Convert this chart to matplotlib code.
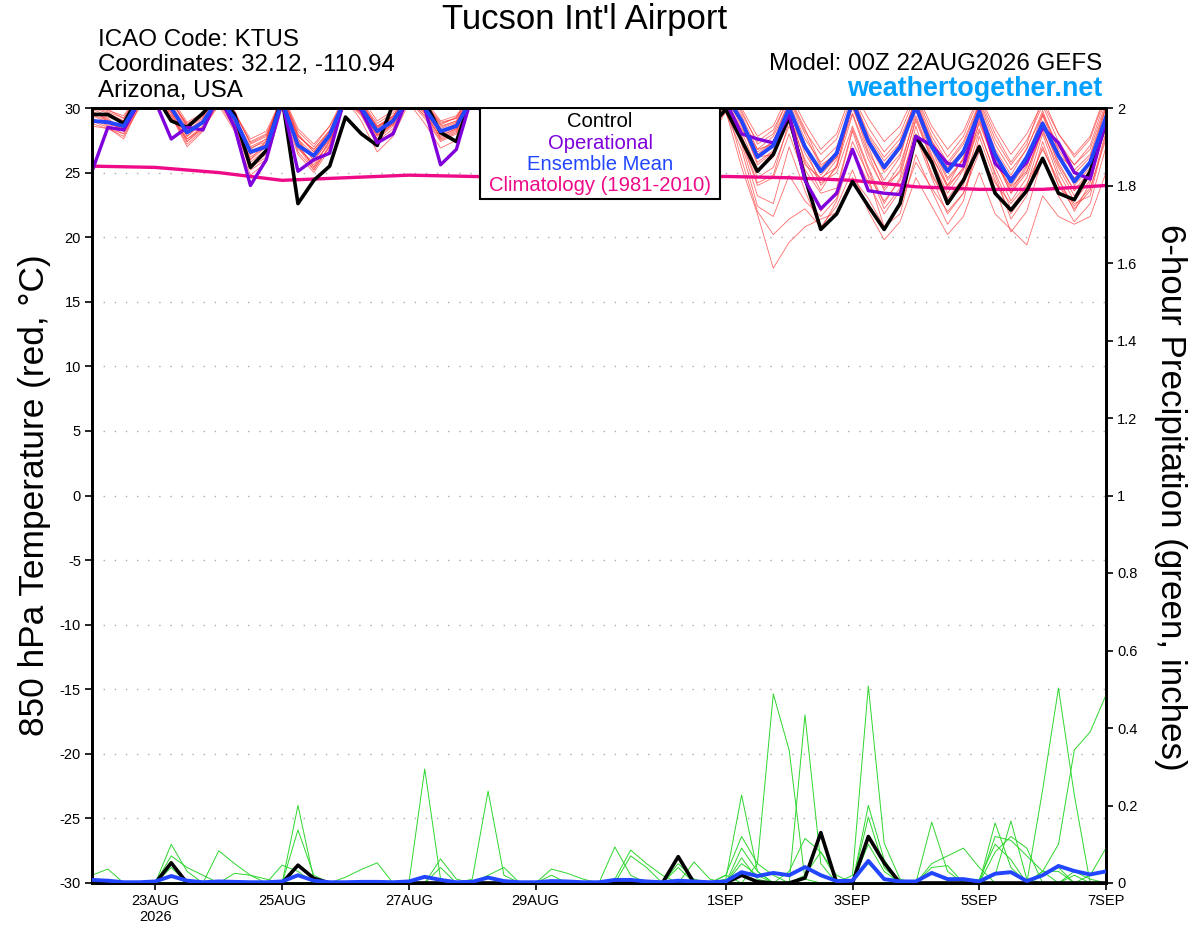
import numpy as np
import pandas as pd
import matplotlib
matplotlib.use('Agg')
import matplotlib.pyplot as plt
from matplotlib.patches import Rectangle

plt.rcParams['font.family'] = ['Liberation Sans', 'DejaVu Sans']
plt.rcParams['axes.unicode_minus'] = False

# 6-hourly GEFS output, 22 Aug 00Z to 7 Sep 00Z
times = pd.date_range('2026-08-22 00:00', periods=65, freq='6h')
clim_times = pd.date_range('2026-08-22', periods=17, freq='D')

# 850 hPa temperature (C)
control_t = [29.5, 29.5, 28.8, 31.0, 31.0, 29.0, 28.5, 29.6, 31.0, 29.5, 25.4, 26.7,
             30.8, 22.6, 24.4, 25.5, 29.3, 28.0, 27.1, 30.3, 31.0, 30.5, 28.1, 27.4,
             31.0, 30.0, 28.5, 29.0, 31.0, 29.8, 28.4, 29.0, 31.0, 30.0, 28.6, 29.2,
             31.0, 30.0, 28.8, 28.5, 29.9, 27.5, 25.1, 26.4, 29.3, 24.6, 20.6, 21.8,
             24.3, 22.4, 20.6, 22.6, 27.8, 25.8, 22.6, 24.4, 27.0, 23.4, 22.1, 23.6,
             26.1, 23.4, 22.9, 25.1, 28.8]
operational_t = [25.1, 28.5, 28.3, 30.5, 30.5, 27.6, 28.5, 28.3, 31.0, 28.5, 24.0, 26.0,
                 30.5, 25.1, 26.0, 26.5, 31.0, 29.8, 27.3, 28.0, 31.0, 30.0, 25.6, 26.8,
                 31.0, 29.5, 28.0, 28.6, 31.0, 29.6, 28.2, 28.8, 31.0, 29.8, 28.4, 28.9,
                 31.0, 30.2, 28.8, 29.5, 30.5, 28.0, 27.6, 27.3, 29.5, 24.4, 22.2, 23.4,
                 26.8, 23.6, 23.4, 23.3, 27.8, 27.1, 25.7, 25.5, 29.8, 25.7, 24.5, 25.8,
                 28.5, 27.3, 25.0, 24.5, 29.0]
mean_t = [29.0, 28.9, 28.6, 30.6, 31.0, 30.0, 28.1, 28.9, 30.8, 29.2, 26.6, 27.0,
          30.5, 27.1, 26.3, 27.9, 30.8, 30.0, 28.2, 29.0, 30.8, 30.0, 28.2, 28.6,
          30.8, 29.0, 28.0, 28.5, 30.8, 29.5, 28.0, 28.6, 30.9, 29.6, 28.2, 28.8,
          31.0, 29.8, 28.5, 29.2, 31.0, 29.0, 26.2, 27.1, 30.0, 27.0, 25.1, 26.5,
          30.5, 27.4, 25.4, 27.0, 30.1, 27.0, 25.1, 26.6, 29.7, 26.4, 24.3, 26.2,
          28.8, 26.3, 24.3, 25.8, 29.3]
clim_t = [25.5, 25.4, 25.0, 24.4, 24.6, 24.8, 24.7, 24.6, 24.6, 24.6, 24.7, 24.6,
          24.4, 23.9, 23.7, 23.7, 24.0]

member_t = [
    [29.6, 29.3, 28.9, 31.0, 31.5, 30.2, 28.5, 29.2, 31.0, 29.0, 26.0, 27.5, 31.2, 27.8, 26.8, 28.3,
     31.0, 30.2, 28.4, 29.3, 31.2, 29.8, 27.6, 28.2, 31.0, 29.5, 27.8, 28.9, 31.2, 29.8, 28.0, 28.6,
     31.0, 29.3, 27.5, 28.4, 31.1, 29.6, 27.9, 28.8, 31.0, 28.6, 25.8, 26.7, 29.8, 26.5, 24.4, 26.0,
     30.8, 27.8, 25.9, 27.3, 30.6, 27.5, 25.6, 27.2, 30.2, 26.8, 24.8, 26.9, 29.5, 26.8, 24.9, 26.2, 30.0],
    [29.2, 28.6, 28.0, 30.4, 31.0, 29.6, 27.4, 28.6, 30.6, 28.8, 26.9, 27.4, 30.9, 27.0, 25.6, 27.4,
     30.6, 29.5, 27.6, 28.8, 30.9, 29.6, 28.5, 29.0, 31.0, 29.0, 27.4, 28.2, 30.8, 29.4, 27.9, 28.9,
     31.2, 29.8, 28.1, 28.7, 30.9, 29.1, 27.2, 28.1, 30.4, 27.9, 24.6, 25.4, 28.6, 25.6, 24.6, 25.4,
     29.5, 26.0, 23.8, 25.6, 29.4, 26.2, 24.0, 25.3, 28.8, 25.7, 23.9, 25.1, 28.2, 25.4, 23.2, 24.7, 29.0],
    [30.2, 29.8, 29.4, 31.2, 31.8, 30.8, 28.9, 29.6, 31.2, 29.7, 27.3, 27.9, 30.4, 26.6, 25.2, 27.1,
     31.2, 30.5, 28.8, 29.6, 31.0, 30.2, 28.8, 29.2, 31.3, 30.1, 28.3, 29.0, 31.0, 29.2, 27.6, 28.5,
     31.4, 30.0, 28.4, 29.1, 31.2, 30.0, 28.2, 29.0, 31.5, 29.6, 27.4, 28.3, 30.8, 28.2, 26.4, 27.6,
     31.0, 28.5, 26.6, 28.0, 31.0, 28.2, 26.2, 27.8, 30.8, 28.0, 25.8, 27.5, 30.2, 27.4, 25.6, 27.1, 30.8],
    [28.8, 28.4, 27.8, 30.2, 30.8, 29.4, 27.2, 28.3, 30.4, 28.4, 25.6, 26.4, 30.2, 27.4, 26.0, 27.6,
     30.4, 29.8, 28.0, 28.8, 30.6, 29.2, 27.4, 28.0, 30.6, 29.0, 27.2, 28.0, 30.9, 29.2, 27.4, 28.3,
     30.6, 28.8, 26.9, 27.8, 30.8, 28.4, 26.2, 27.4, 29.8, 25.4, 21.8, 17.6, 19.6, 20.8, 21.4, 21.9,
     24.6, 23.0, 20.8, 22.4, 25.8, 23.8, 22.0, 23.4, 26.6, 24.2, 22.6, 24.1, 26.8, 24.4, 22.4, 23.8, 27.6],
    [29.8, 29.0, 28.2, 30.8, 31.2, 29.9, 27.8, 28.9, 30.8, 29.4, 27.0, 27.6, 31.0, 28.2, 27.0, 28.6,
     30.7, 29.0, 26.6, 27.8, 30.4, 28.8, 26.9, 27.5, 30.7, 29.2, 27.6, 28.4, 31.0, 29.6, 28.2, 29.0,
     31.1, 29.4, 27.8, 28.6, 31.0, 29.8, 28.2, 29.1, 30.6, 28.2, 25.2, 26.2, 29.4, 26.0, 24.2, 25.0,
     28.6, 25.4, 22.6, 24.6, 29.2, 26.0, 23.4, 25.2, 28.4, 24.8, 21.4, 23.2, 27.4, 24.0, 22.2, 23.6, 28.2],
    [29.4, 29.5, 29.0, 30.9, 31.4, 30.4, 28.8, 29.4, 31.2, 29.6, 27.6, 28.2, 30.8, 27.6, 26.4, 27.8,
     31.4, 30.8, 29.0, 29.8, 31.4, 30.6, 29.0, 29.4, 31.2, 29.9, 28.6, 29.2, 31.0, 30.0, 28.4, 29.0,
     31.3, 29.8, 28.2, 29.0, 31.4, 30.2, 28.8, 29.4, 31.6, 30.0, 27.8, 28.6, 31.2, 28.8, 26.8, 28.0,
     31.4, 29.2, 27.4, 28.6, 31.2, 28.6, 26.8, 28.2, 31.0, 28.4, 26.4, 28.0, 30.4, 28.0, 26.2, 27.6, 31.0],
    [29.0, 28.8, 28.4, 30.5, 30.9, 29.8, 28.0, 28.8, 30.5, 28.6, 25.2, 26.0, 30.3, 26.8, 25.8, 27.2,
     30.9, 30.1, 28.3, 29.0, 31.0, 30.1, 28.0, 28.5, 30.8, 29.2, 27.6, 28.4, 31.0, 29.4, 27.8, 28.6,
     30.9, 29.6, 27.6, 28.5, 30.8, 29.2, 27.4, 28.4, 30.8, 27.2, 23.2, 22.6, 27.0, 23.6, 20.6, 22.8,
     26.8, 24.2, 21.8, 23.6, 28.0, 25.0, 22.6, 24.4, 29.0, 26.0, 23.4, 25.0, 28.6, 25.8, 23.6, 25.2, 29.4],
    [30.0, 29.6, 29.0, 31.1, 31.6, 30.6, 28.6, 29.5, 31.0, 29.2, 26.4, 27.2, 30.6, 27.2, 25.4, 27.5,
     30.8, 29.8, 27.8, 28.9, 31.1, 30.4, 28.9, 29.2, 31.0, 29.6, 28.0, 28.7, 31.1, 29.9, 28.3, 28.9,
     31.0, 29.2, 27.4, 28.3, 31.2, 29.8, 28.0, 28.9, 31.2, 29.4, 26.8, 27.8, 30.4, 27.6, 25.8, 27.0,
     30.2, 26.6, 24.4, 26.2, 30.4, 27.4, 25.4, 26.8, 30.0, 26.4, 23.6, 25.6, 29.0, 26.2, 24.6, 25.6, 29.6],
    [29.4, 28.9, 28.6, 30.6, 31.0, 29.4, 27.0, 28.2, 30.7, 29.0, 26.6, 27.3, 30.6, 27.0, 26.2, 27.9,
     31.1, 30.0, 27.9, 28.7, 30.8, 29.7, 28.1, 28.7, 30.9, 29.4, 27.8, 28.6, 30.7, 29.0, 27.2, 28.2,
     31.0, 29.7, 28.0, 28.8, 31.0, 29.4, 27.6, 28.6, 30.6, 28.4, 26.2, 26.4, 29.2, 26.8, 25.0, 26.2,
     30.0, 27.0, 24.0, 25.0, 29.0, 26.0, 23.0, 24.6, 29.6, 26.6, 24.4, 26.0, 29.6, 27.0, 25.6, 26.8, 30.4],
    [29.6, 29.2, 28.2, 30.8, 31.2, 30.0, 28.2, 29.0, 30.9, 29.4, 25.8, 26.8, 31.0, 28.0, 26.6, 28.2,
     31.2, 30.4, 28.6, 29.4, 30.7, 29.4, 27.5, 28.1, 30.8, 29.6, 28.0, 28.8, 31.2, 30.2, 28.6, 29.2,
     31.2, 30.0, 28.4, 29.0, 30.9, 29.4, 27.6, 28.6, 29.6, 26.8, 22.4, 21.6, 24.8, 22.8, 21.6, 23.0,
     27.4, 24.8, 22.8, 24.4, 27.8, 24.6, 21.8, 23.4, 27.2, 23.8, 20.4, 22.0, 26.2, 23.2, 21.2, 22.6, 27.0],
    [29.9, 29.4, 28.8, 30.9, 31.3, 30.2, 28.3, 29.1, 30.6, 28.6, 26.2, 27.0, 30.8, 27.6, 25.9, 27.6,
     30.5, 29.6, 27.4, 28.4, 31.0, 30.0, 28.4, 28.9, 31.1, 29.8, 28.2, 28.8, 30.9, 29.6, 28.0, 28.8,
     30.8, 29.0, 27.2, 28.2, 31.0, 29.6, 27.9, 28.7, 30.9, 29.0, 26.6, 27.4, 30.6, 28.0, 25.4, 26.6,
     30.6, 27.6, 25.6, 27.0, 30.8, 27.8, 25.8, 27.4, 30.4, 27.2, 25.2, 26.8, 29.8, 26.6, 24.0, 25.4, 30.2],
    [28.6, 28.4, 28.0, 30.0, 30.6, 29.2, 27.6, 28.4, 30.2, 28.2, 24.8, 25.8, 30.0, 26.4, 25.0, 26.8,
     30.6, 29.4, 27.2, 28.2, 30.6, 29.4, 27.8, 28.4, 30.6, 29.0, 27.2, 28.0, 30.8, 29.4, 27.7, 28.4,
     30.7, 29.0, 27.0, 27.9, 30.6, 29.0, 27.1, 27.8, 30.2, 27.4, 24.0, 24.6, 28.0, 24.6, 22.0, 23.6,
     28.2, 24.6, 20.8, 21.8, 26.4, 23.6, 21.0, 22.8, 27.8, 24.4, 21.8, 23.6, 27.0, 24.0, 22.6, 23.2, 28.0],
    [29.2, 28.7, 28.5, 30.6, 31.0, 29.8, 27.8, 28.8, 30.8, 29.0, 26.8, 27.6, 30.6, 27.4, 26.2, 27.8,
     31.0, 30.2, 28.5, 29.2, 31.2, 30.4, 28.6, 29.0, 31.0, 29.6, 28.2, 28.9, 31.0, 29.6, 28.0, 28.8,
     31.1, 29.6, 27.8, 28.6, 31.0, 29.6, 27.8, 28.6, 30.4, 26.0, 22.0, 20.2, 21.4, 22.2, 20.8, 22.4,
     25.2, 22.0, 19.8, 21.2, 24.6, 22.4, 20.2, 21.6, 25.0, 21.8, 20.6, 19.4, 23.2, 21.6, 21.0, 21.6, 25.0],
    [30.4, 29.9, 29.2, 31.3, 31.8, 30.6, 28.7, 29.4, 31.3, 29.8, 27.2, 27.8, 30.9, 27.9, 26.6, 28.0,
     31.0, 30.3, 28.6, 29.3, 31.3, 30.5, 28.7, 29.3, 31.2, 30.0, 28.4, 29.0, 31.3, 30.2, 28.6, 29.2,
     31.3, 30.1, 28.6, 29.2, 31.3, 30.1, 28.4, 29.2, 31.4, 29.8, 27.2, 28.0, 30.9, 28.4, 25.6, 26.4,
     30.9, 28.0, 26.2, 27.6, 30.6, 27.2, 24.6, 26.0, 30.6, 27.6, 25.6, 27.2, 30.8, 28.0, 26.4, 27.8, 31.2],
    [29.0, 28.5, 27.6, 30.2, 30.8, 29.6, 27.4, 28.4, 30.6, 28.6, 26.0, 27.0, 30.4, 27.2, 25.4, 27.0,
     30.8, 29.6, 27.6, 28.6, 30.9, 29.8, 27.9, 28.4, 30.8, 29.4, 27.8, 28.6, 30.7, 29.2, 27.4, 28.4,
     30.8, 29.4, 27.5, 28.4, 30.9, 29.4, 27.4, 28.2, 30.2, 27.6, 24.2, 24.8, 29.0, 25.2, 23.4, 23.8,
     28.4, 25.2, 22.2, 23.8, 28.6, 24.8, 22.6, 24.0, 28.2, 25.0, 22.2, 24.0, 28.0, 24.6, 22.0, 24.2, 28.8],
    [29.5, 29.0, 28.6, 30.7, 31.2, 30.0, 28.1, 29.0, 31.0, 29.5, 27.4, 28.0, 30.7, 27.8, 26.8, 28.2,
     30.9, 29.9, 28.1, 29.1, 30.9, 29.9, 28.2, 28.8, 31.0, 29.8, 28.1, 28.9, 30.9, 29.6, 27.9, 28.7,
     31.1, 29.8, 28.2, 28.9, 31.1, 29.8, 28.0, 28.8, 31.0, 28.8, 25.6, 26.6, 30.0, 27.0, 24.0, 25.4,
     30.4, 27.2, 25.0, 26.4, 30.2, 27.0, 24.4, 26.0, 29.8, 26.6, 24.0, 25.8, 28.8, 25.6, 23.6, 24.8, 29.6],
    [29.7, 29.1, 28.4, 30.8, 31.1, 29.7, 27.6, 28.6, 30.7, 28.9, 25.4, 26.2, 30.5, 27.0, 25.2, 27.0,
     30.6, 29.7, 27.9, 28.8, 30.8, 29.6, 27.7, 28.3, 30.9, 29.5, 27.9, 28.7, 31.0, 29.5, 27.8, 28.7,
     30.9, 29.5, 27.8, 28.7, 30.8, 29.5, 27.6, 28.4, 30.6, 28.8, 26.8, 27.2, 30.2, 27.0, 24.8, 26.2,
     29.6, 26.4, 23.6, 25.2, 29.8, 26.4, 23.8, 25.4, 29.2, 25.4, 22.8, 24.6, 28.4, 25.0, 22.8, 24.4, 29.2],
    [30.1, 29.7, 29.2, 31.0, 31.5, 30.5, 28.6, 29.3, 31.1, 29.5, 26.4, 27.2, 31.1, 28.4, 27.2, 28.6,
     31.1, 30.4, 28.5, 29.4, 31.1, 30.2, 28.2, 28.8, 31.1, 29.9, 28.4, 29.1, 31.2, 30.0, 28.5, 29.1,
     31.2, 29.9, 28.2, 28.9, 31.3, 29.9, 28.3, 29.0, 31.2, 29.2, 26.4, 27.4, 29.6, 25.8, 23.6, 25.6,
     30.2, 27.4, 25.2, 26.8, 30.4, 26.8, 24.0, 26.2, 30.0, 26.2, 23.4, 25.4, 29.4, 26.4, 25.2, 26.4, 30.2],
]

# 6-hour precipitation (inches)
control_p = [0, 0, 0, 0, 0, 0.052, 0, 0, 0, 0, 0, 0, 0, 0.046, 0.012, 0,
             0, 0, 0, 0, 0, 0, 0, 0, 0, 0, 0, 0, 0, 0, 0, 0,
             0, 0, 0, 0, 0, 0.068, 0, 0, 0, 0.02, 0.003, 0, 0, 0.013, 0.13, 0,
             0, 0.12, 0.052, 0, 0, 0, 0, 0, 0, 0, 0, 0, 0, 0, 0, 0, 0]
mean_p = [0.008, 0.006, 0.002, 0.002, 0.004, 0.018, 0.006, 0.002, 0.004, 0.003, 0.002, 0.002,
          0.004, 0.02, 0.006, 0.002, 0.002, 0.003, 0.003, 0.002, 0.004, 0.016, 0.008, 0.002,
          0.003, 0.014, 0.005, 0.002, 0.002, 0.005, 0.004, 0.002, 0.002, 0.008, 0.008, 0.004,
          0.002, 0.006, 0.004, 0.002, 0.004, 0.028, 0.018, 0.026, 0.02, 0.041, 0.02, 0.005,
          0.006, 0.057, 0.01, 0.004, 0.004, 0.026, 0.01, 0.01, 0.004, 0.024, 0.028, 0.005,
          0.02, 0.044, 0.031, 0.022, 0.03]
member_p = [
    [0.02, 0.036, 0, 0, 0, 0, 0, 0, 0, 0, 0, 0, 0, 0.2, 0.01, 0, 0, 0, 0, 0, 0, 0, 0, 0,
     0, 0, 0, 0, 0, 0, 0, 0, 0, 0, 0, 0, 0, 0, 0, 0, 0, 0, 0, 0, 0.03, 0.115, 0.08, 0.01,
     0, 0, 0, 0, 0, 0, 0, 0, 0, 0, 0, 0, 0, 0, 0, 0, 0],
    [0, 0, 0, 0, 0, 0.1, 0.03, 0, 0, 0, 0, 0, 0, 0.137, 0.02, 0, 0, 0, 0, 0, 0, 0, 0, 0,
     0, 0, 0, 0, 0, 0, 0, 0, 0, 0, 0, 0, 0, 0.04, 0, 0, 0, 0, 0, 0, 0, 0, 0, 0,
     0, 0, 0, 0, 0, 0, 0, 0, 0, 0.12, 0.11, 0.07, 0.03, 0, 0, 0, 0],
    [0, 0, 0, 0, 0, 0.07, 0.04, 0.02, 0, 0, 0, 0, 0, 0, 0, 0, 0, 0, 0, 0, 0, 0, 0.062, 0.01,
     0, 0, 0, 0, 0, 0, 0, 0, 0, 0, 0, 0, 0, 0, 0, 0, 0, 0, 0, 0, 0, 0, 0, 0,
     0, 0.1, 0.03, 0, 0, 0, 0, 0, 0, 0, 0, 0, 0, 0, 0, 0, 0],
    [0, 0, 0, 0, 0, 0.04, 0, 0, 0, 0, 0, 0, 0.046, 0.03, 0, 0, 0, 0, 0, 0, 0, 0, 0, 0,
     0, 0, 0, 0, 0, 0, 0, 0, 0, 0, 0, 0, 0, 0, 0, 0, 0, 0, 0, 0, 0, 0, 0, 0,
     0.01, 0.05, 0.01, 0, 0, 0, 0, 0, 0, 0, 0, 0, 0, 0, 0, 0, 0],
    [0, 0, 0, 0, 0, 0.02, 0, 0, 0, 0, 0, 0, 0, 0, 0, 0, 0, 0, 0, 0, 0, 0.294, 0.01, 0,
     0, 0, 0, 0, 0, 0, 0, 0, 0, 0, 0, 0, 0, 0, 0, 0, 0, 0, 0, 0, 0, 0, 0, 0,
     0, 0, 0, 0, 0, 0, 0, 0, 0, 0.02, 0.16, 0.01, 0, 0, 0, 0, 0],
    [0, 0, 0, 0, 0, 0, 0, 0, 0.083, 0.05, 0.02, 0, 0, 0, 0, 0, 0, 0, 0, 0, 0, 0, 0, 0,
     0, 0, 0, 0, 0, 0, 0, 0, 0, 0, 0, 0, 0, 0, 0, 0, 0, 0, 0, 0, 0, 0, 0, 0,
     0, 0, 0, 0, 0, 0, 0, 0, 0, 0, 0, 0, 0.24, 0.503, 0.227, 0, 0],
    [0, 0, 0, 0, 0, 0, 0, 0, 0, 0.025, 0.02, 0.01, 0, 0, 0, 0, 0, 0, 0, 0, 0, 0, 0, 0,
     0.01, 0.237, 0.02, 0, 0, 0, 0, 0, 0, 0, 0, 0, 0, 0, 0, 0, 0, 0, 0, 0, 0, 0, 0, 0,
     0, 0, 0, 0, 0, 0, 0, 0, 0, 0, 0, 0, 0.03, 0.1, 0.343, 0.39, 0.485],
    [0, 0, 0, 0, 0, 0, 0, 0, 0, 0, 0, 0, 0, 0, 0, 0, 0.015, 0.035, 0.052, 0, 0, 0, 0, 0,
     0, 0, 0, 0, 0, 0, 0, 0, 0, 0.093, 0.02, 0, 0, 0, 0, 0, 0, 0, 0, 0, 0, 0, 0, 0,
     0, 0, 0, 0, 0, 0, 0, 0, 0, 0, 0, 0, 0, 0, 0, 0.02, 0.09],
    [0, 0, 0, 0, 0, 0, 0, 0, 0, 0, 0, 0, 0, 0, 0, 0, 0, 0, 0, 0, 0, 0, 0.04, 0,
     0, 0, 0, 0, 0, 0, 0, 0, 0, 0.01, 0.085, 0.05, 0.02, 0, 0, 0, 0, 0, 0, 0, 0, 0, 0, 0,
     0, 0, 0, 0, 0, 0, 0, 0, 0, 0.08, 0.12, 0.09, 0, 0, 0, 0, 0],
    [0, 0, 0, 0, 0, 0, 0, 0, 0, 0, 0, 0, 0, 0, 0, 0, 0, 0, 0, 0, 0, 0, 0, 0,
     0, 0.02, 0.04, 0, 0, 0, 0, 0, 0, 0, 0, 0, 0, 0, 0, 0, 0, 0.065, 0.01, 0, 0, 0, 0, 0,
     0, 0, 0, 0, 0, 0, 0, 0, 0, 0, 0, 0, 0.03, 0.03, 0, 0, 0],
    [0, 0, 0, 0, 0, 0, 0, 0, 0, 0, 0, 0, 0, 0, 0, 0, 0, 0, 0, 0, 0, 0, 0, 0,
     0, 0, 0, 0, 0, 0.036, 0.025, 0.01, 0, 0, 0, 0, 0, 0, 0, 0, 0, 0, 0.05, 0.488, 0.343, 0.01, 0, 0,
     0, 0, 0, 0, 0, 0, 0, 0, 0, 0, 0, 0, 0, 0, 0, 0, 0],
    [0, 0, 0, 0, 0, 0, 0, 0, 0, 0, 0, 0, 0, 0, 0, 0, 0, 0, 0, 0, 0, 0, 0, 0,
     0, 0, 0, 0, 0, 0.02, 0, 0, 0, 0, 0.07, 0.04, 0, 0, 0, 0, 0, 0, 0, 0, 0, 0.434, 0.05, 0,
     0, 0, 0, 0, 0, 0, 0, 0, 0, 0, 0, 0, 0, 0, 0, 0, 0],
    [0, 0, 0, 0, 0, 0, 0, 0, 0, 0, 0, 0, 0, 0, 0, 0, 0, 0, 0, 0, 0, 0, 0, 0,
     0, 0, 0, 0, 0, 0, 0, 0, 0, 0, 0, 0, 0, 0.05, 0.01, 0, 0.02, 0, 0, 0, 0, 0, 0, 0,
     0.02, 0.508, 0.103, 0.01, 0, 0, 0, 0, 0, 0, 0, 0, 0, 0, 0, 0, 0],
    [0, 0, 0, 0, 0, 0, 0, 0, 0, 0, 0, 0, 0, 0, 0, 0, 0, 0, 0, 0, 0, 0, 0, 0,
     0, 0, 0, 0, 0, 0, 0, 0, 0, 0, 0, 0, 0, 0, 0.054, 0.01, 0, 0, 0, 0, 0, 0, 0, 0,
     0, 0.2, 0.06, 0, 0, 0.04, 0.045, 0, 0, 0, 0, 0, 0, 0, 0, 0, 0],
    [0, 0, 0, 0, 0, 0, 0, 0, 0, 0, 0, 0, 0, 0, 0, 0, 0, 0, 0, 0, 0, 0, 0, 0,
     0, 0, 0, 0, 0, 0, 0, 0, 0, 0, 0, 0, 0, 0, 0, 0, 0.01, 0.227, 0.03, 0, 0, 0, 0, 0,
     0, 0.17, 0.04, 0, 0, 0, 0, 0, 0.01, 0.1, 0.06, 0, 0, 0, 0, 0, 0],
    [0, 0, 0, 0, 0, 0, 0, 0, 0, 0, 0, 0, 0, 0, 0, 0, 0, 0, 0, 0, 0, 0, 0, 0,
     0, 0, 0, 0, 0, 0, 0, 0, 0, 0, 0, 0, 0, 0, 0, 0, 0.02, 0.12, 0.05, 0.02, 0, 0, 0, 0,
     0, 0, 0, 0, 0, 0.157, 0.03, 0, 0, 0, 0, 0, 0.02, 0.04, 0, 0, 0],
    [0, 0, 0, 0, 0, 0, 0, 0, 0, 0, 0, 0, 0, 0, 0, 0, 0, 0, 0, 0, 0, 0, 0, 0,
     0, 0, 0, 0, 0, 0, 0, 0, 0, 0, 0, 0, 0, 0, 0, 0, 0, 0.09, 0.03, 0, 0, 0, 0, 0,
     0, 0, 0, 0, 0, 0.05, 0.07, 0.09, 0.04, 0, 0, 0, 0, 0, 0.02, 0, 0],
    [0, 0, 0, 0, 0, 0, 0, 0, 0, 0, 0, 0, 0, 0, 0, 0, 0, 0, 0, 0, 0, 0, 0, 0,
     0, 0, 0, 0, 0, 0, 0, 0, 0, 0, 0, 0, 0, 0, 0, 0, 0, 0.05, 0.02, 0, 0, 0.02, 0.08, 0.02,
     0, 0, 0, 0, 0, 0, 0, 0, 0, 0.155, 0.04, 0, 0, 0, 0.03, 0.01, 0],
]

tick_dates = pd.to_datetime(['2026-08-23', '2026-08-25', '2026-08-27', '2026-08-29',
                             '2026-09-01', '2026-09-03', '2026-09-05', '2026-09-07'])
tick_labels = ['23AUG\n2026', '25AUG', '27AUG', '29AUG', '1SEP', '3SEP', '5SEP', '7SEP']

fig = plt.figure(figsize=(12, 9.27), dpi=100)
ax = fig.add_axes([92 / 1200, 44 / 927, 1014 / 1200, 775 / 927])

for m in member_t:
    ax.plot(times, m, color='#ff3b3b', linewidth=0.6, alpha=0.75, zorder=2)
ax.plot(clim_times, clim_t, color='#ee0a88', linewidth=2.4, zorder=3)
ax.plot(times, control_t, color='black', linewidth=2.6, zorder=4)
ax.plot(times, operational_t, color='#8000dc', linewidth=2.4, zorder=5)
ax.plot(times, mean_t, color='#2246ff', linewidth=2.8, zorder=6)

ax.set_ylim(-30, 30)
ax.set_yticks(np.arange(-30, 31, 5))
ax.set_xlim(pd.Timestamp('2026-08-22'), pd.Timestamp('2026-09-07'))
ax.set_xticks(tick_dates)
ax.set_xticklabels(tick_labels)
for yv in range(-25, 30, 5):
    ax.axhline(yv, color='#aaaaaa', linewidth=1.0, linestyle=(0, (1, 7)), zorder=1)

ax2 = ax.twinx()
for m in member_p:
    ax2.plot(times, m, color='#2ed62e', linewidth=0.7, zorder=2)
ax2.plot(times, control_p, color='black', linewidth=2.6, zorder=4)
ax2.plot(times, mean_p, color='#2246ff', linewidth=2.8, zorder=5)
ax2.set_ylim(0, 2)
ax2.set_yticks(np.arange(0, 2.01, 0.2))
ax2.set_yticklabels(['0', '0.2', '0.4', '0.6', '0.8', '1', '1.2', '1.4', '1.6', '1.8', '2'])
ax2.set_xlim(pd.Timestamp('2026-08-22'), pd.Timestamp('2026-09-07'))

for a in (ax, ax2):
    for s in a.spines.values():
        s.set_linewidth(2.0)
    a.tick_params(direction='out', length=5, width=1.2, labelsize=10.5, pad=3)

# legend box
ax2.add_patch(Rectangle((0.3826, 0.8826), 0.2367, 0.1174, transform=ax2.transAxes,
                        facecolor='white', edgecolor='black', linewidth=1.5, zorder=10))
leg = [('Control', 'black', 0.9832), ('Operational', '#8000dc', 0.9548),
       ('Ensemble Mean', '#2246ff', 0.9277), ('Climatology (1981-2010)', '#ee0a88', 0.8994)]
for txt, col, yy in leg:
    ax2.text(0.501, yy, txt, color=col, fontsize=14.6, ha='center', va='center',
             transform=ax2.transAxes, zorder=11)

fig.text(585 / 1200, 1 - 19 / 927, "Tucson Int'l Airport", fontsize=25, ha='center', va='center')
fig.text(98 / 1200, 1 - 40 / 927, 'ICAO Code: KTUS', fontsize=17.4, ha='left', va='center')
fig.text(98 / 1200, 1 - 65 / 927, 'Coordinates: 32.12, -110.94', fontsize=17.4, ha='left', va='center')
fig.text(98 / 1200, 1 - 91 / 927, 'Arizona, USA', fontsize=17.4, ha='left', va='center')
fig.text(1102 / 1200, 1 - 64 / 927, 'Model: 00Z 22AUG2026 GEFS', fontsize=17.4, ha='right', va='center')
fig.text(1102 / 1200, 1 - 89 / 927, 'weathertogether.net', fontsize=19.4, fontweight='bold',
         color='#00a0ff', ha='right', va='center')
fig.text(35 / 1200, 1 - 495 / 927, '850 hPa Temperature (red, °C)', fontsize=25.4,
         rotation=90, ha='center', va='center')
fig.text(1170 / 1200, 1 - 497 / 927, '6-hour Precipitation (green, inches)', fontsize=25.2,
         rotation=270, ha='center', va='center')

fig.savefig('out.png', dpi=100)
